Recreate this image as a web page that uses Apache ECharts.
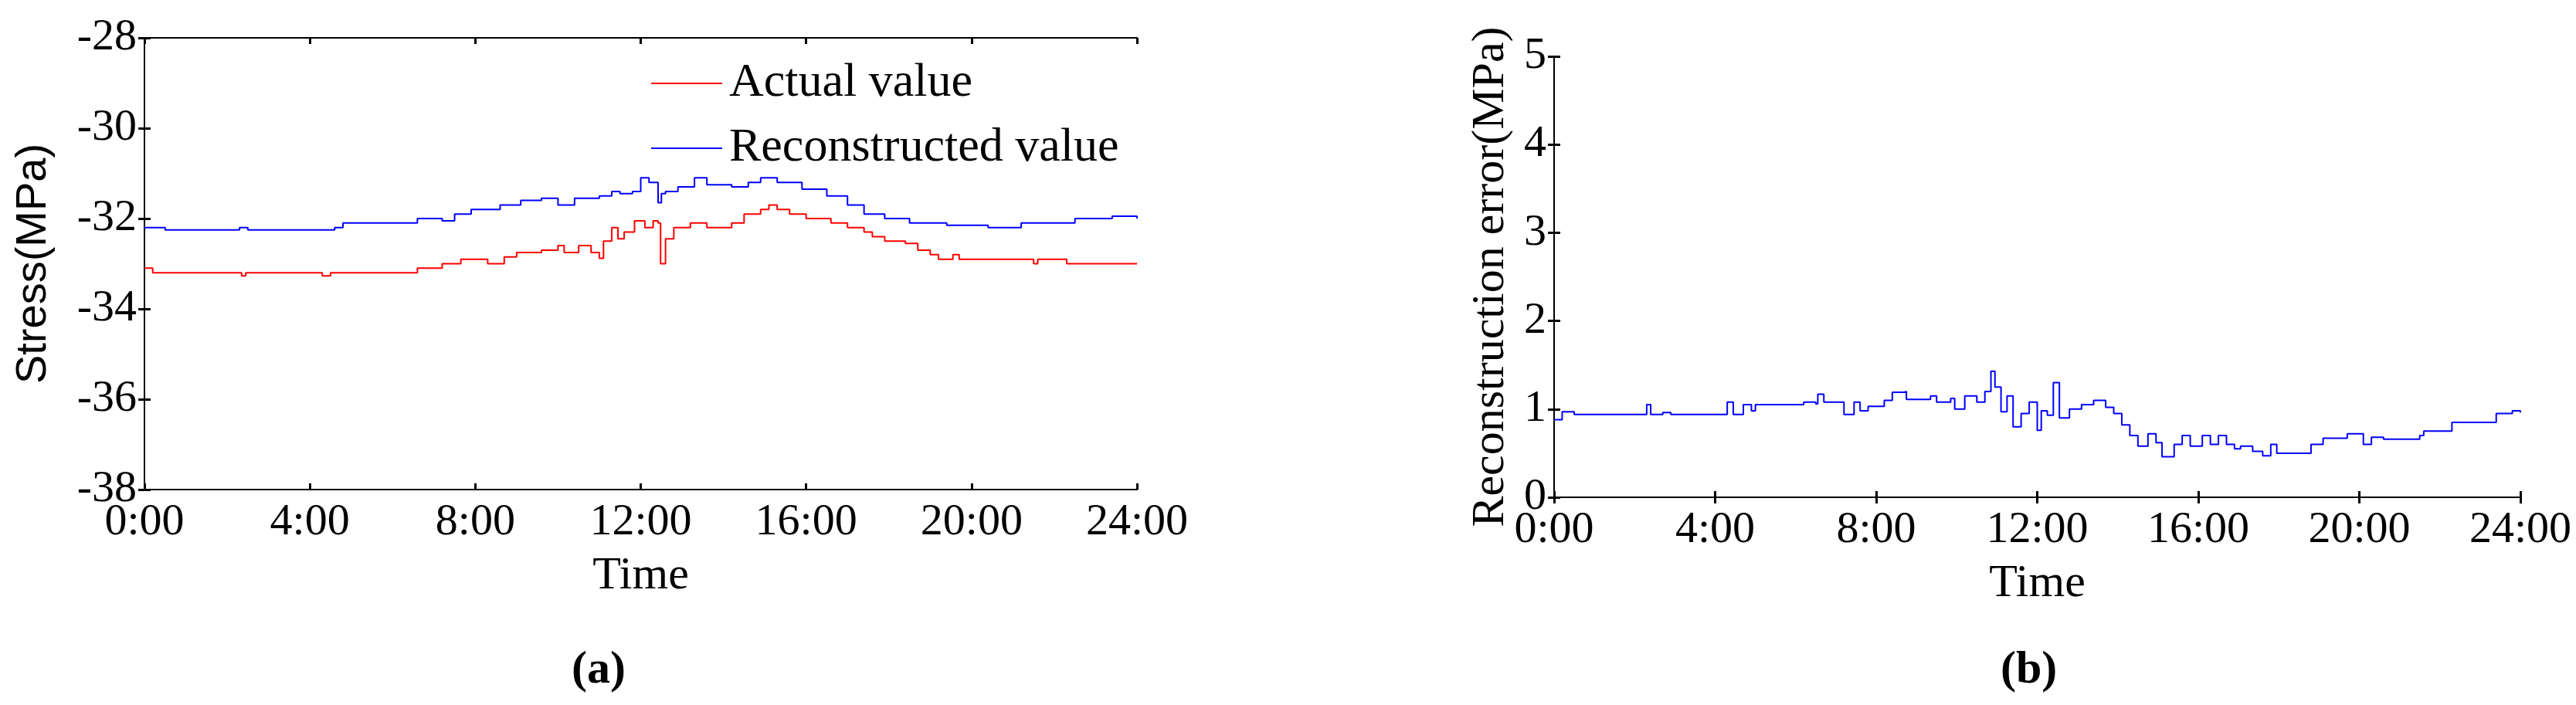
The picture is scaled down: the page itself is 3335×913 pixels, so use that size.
<!DOCTYPE html>
<html>
<head>
<meta charset="utf-8">
<script src="https://cdn.jsdelivr.net/npm/echarts@6/dist/echarts.min.js"></script>
<style>body{margin:0;background:#fff}#c{width:3335px;height:913px}</style>
</head>
<body>
<div id="c"></div>
<script>
// time in hours, value (each value holds until the next time)
var actualT = [0,0.2,2.3,2.35,2.45,4.2,4.3,4.5,6.6,7.2,7.65,8.3,8.7,9.0,9.6,10.0,10.15,10.5,10.8,11.0,11.1,11.3,11.45,11.6,11.85,12.1,12.3,12.42,12.48,12.6,12.8,13.2,13.6,14.2,14.5,14.9,15.1,15.3,15.6,16.0,16.6,17.0,17.4,17.6,17.9,18.4,18.7,19.0,19.2,19.55,19.7,21.4,21.5,21.6,22.3,24];
var actualV = [-33.1,-33.2,-33.2,-33.27,-33.2,-33.2,-33.27,-33.2,-33.1,-33.0,-32.9,-33.0,-32.85,-32.75,-32.7,-32.6,-32.75,-32.6,-32.75,-32.88,-32.5,-32.2,-32.45,-32.3,-32.05,-32.2,-32.05,-32.1,-33.0,-32.45,-32.2,-32.1,-32.2,-32.1,-31.9,-31.8,-31.7,-31.8,-31.9,-32.0,-32.1,-32.2,-32.3,-32.4,-32.5,-32.55,-32.7,-32.8,-32.9,-32.8,-32.9,-32.9,-33.0,-32.9,-33.0,-33.0];
var reconT = [0,0.5,2.2,2.3,2.5,4.1,4.6,4.8,6.6,7.2,7.5,7.9,8.6,9.1,9.6,10.0,10.4,11.0,11.3,11.5,11.8,12.0,12.2,12.42,12.5,12.6,12.9,13.3,13.6,14.2,14.6,14.9,15.3,15.9,16.5,17.0,17.4,17.9,18.5,19.4,20.4,21.2,22.5,23.4,24];
var reconV = [-32.2,-32.25,-32.25,-32.2,-32.25,-32.25,-32.2,-32.1,-32.0,-32.05,-31.9,-31.8,-31.7,-31.6,-31.55,-31.7,-31.55,-31.5,-31.4,-31.45,-31.4,-31.1,-31.2,-31.65,-31.45,-31.4,-31.3,-31.1,-31.25,-31.3,-31.2,-31.1,-31.2,-31.35,-31.5,-31.7,-31.9,-32.0,-32.1,-32.15,-32.2,-32.1,-32.0,-31.95,-32.0];
var errT = [0,0.2,0.5,2.1,2.3,2.4,2.7,2.9,4.0,4.3,4.45,4.7,4.9,5.0,6.2,6.5,6.55,6.7,7.1,7.2,7.45,7.6,7.8,8.2,8.4,8.7,8.75,9.35,9.5,9.85,9.95,10.2,10.5,10.7,10.85,10.95,11.1,11.25,11.4,11.6,11.8,12.0,12.1,12.25,12.4,12.55,12.8,13.1,13.4,13.7,13.9,14.1,14.3,14.5,14.75,14.95,15.1,15.4,15.6,15.8,16.1,16.3,16.5,16.7,16.9,17.05,17.35,17.6,17.8,17.95,18.6,18.8,19.1,19.7,20.1,20.3,20.6,21.4,21.5,21.6,22.3,23.4,23.8,24];
var errV = [0.88,0.97,0.94,0.94,1.05,0.94,0.96,0.94,0.94,1.08,0.94,1.05,0.98,1.05,1.08,1.06,1.17,1.08,1.08,0.94,1.08,0.98,1.03,1.1,1.19,1.2,1.11,1.15,1.08,1.12,1.0,1.15,1.08,1.2,1.43,1.25,0.97,1.15,0.8,0.95,1.08,0.76,0.98,0.93,1.3,0.9,1.0,1.05,1.1,1.02,0.95,0.82,0.7,0.58,0.72,0.62,0.46,0.6,0.7,0.58,0.7,0.6,0.7,0.6,0.55,0.58,0.52,0.47,0.6,0.5,0.5,0.6,0.67,0.72,0.6,0.68,0.66,0.66,0.7,0.75,0.85,0.95,0.98,0.96];
var timeTicks = ['0:00','4:00','8:00','12:00','16:00','20:00','24:00'];

function pairs(t, v) { return t.map(function (x, i) { return [x, v[i]]; }); }

var tickFont = {fontFamily: 'Liberation Serif', fontSize: 58, color: '#000'};
function xAx(gi, top) {
  return {
    type: 'value', gridIndex: gi, min: 0, max: 24, interval: 4,
    position: top ? 'top' : 'bottom',
    name: top ? '' : 'Time', nameLocation: 'middle', nameGap: 82,
    nameTextStyle: {fontFamily: 'Liberation Serif', fontSize: 60, color: '#000'},
    axisLine: {show: true, lineStyle: {color: '#000', width: 2}},
    axisTick: {show: true, inside: true, length: 8, lineStyle: {color: '#000', width: 3}},
    axisLabel: top ? {show: false} : Object.assign({margin: 14, formatter: function (v) { return timeTicks[v / 4]; }}, tickFont),
    splitLine: {show: false}
  };
}
function yAx(gi, right, min, max, interval, name, nf, fs, gap) {
  return {
    type: 'value', gridIndex: gi, min: min, max: max, interval: interval,
    position: right ? 'right' : 'left',
    name: right ? '' : name, nameLocation: 'middle', nameGap: gap,
    nameTextStyle: {fontFamily: nf, fontSize: fs, color: '#000'},
    axisLine: {show: true, lineStyle: {color: '#000', width: 2}},
    axisTick: {show: true, inside: true, length: 8, lineStyle: {color: '#000', width: 3}},
    axisLabel: right ? {show: false} : Object.assign({margin: 10}, tickFont),
    splitLine: {show: false}
  };
}

var chart = echarts.init(document.getElementById('c'));
chart.setOption({
  animation: false,
  backgroundColor: '#fff',
  grid: [
    {left: 187, right: 1863, top: 49, height: 585},
    {left: 2012, right: 72, top: 73, height: 571}
  ],
  legend: {
    orient: 'vertical', left: 838, top: 72, itemGap: 22, itemWidth: 92, itemHeight: 10,
    icon: 'path://M0,0H1V0.02H0Z',
    textStyle: {fontFamily: 'Liberation Serif', fontSize: 62, color: '#000', padding: [0, 0, 0, 4]},
    data: ['Actual value', 'Reconstructed value']
  },
  xAxis: [xAx(0, false), xAx(0, true), xAx(1, false), xAx(1, true)],
  yAxis: [
    yAx(0, false, -38, -28, 2, 'Stress(MPa)', 'Liberation Sans', 56, 115),
    yAx(0, true, -38, -28, 2, '', '', 10, 0),
    yAx(1, false, 0, 5, 1, 'Reconstruction error(MPa)', 'Liberation Serif', 60, 52),
    yAx(1, true, 0, 5, 1, '', '', 10, 0)
  ],
  graphic: [
    {type: 'text', left: 740, top: 838, style: {text: '(a)', font: 'bold 60px "Liberation Serif"', fill: '#000'}},
    {type: 'text', left: 2590, top: 838, style: {text: '(b)', font: 'bold 60px "Liberation Serif"', fill: '#000'}}
  ],
  series: [
    {name: 'Actual value', type: 'line', step: 'end', xAxisIndex: 0, yAxisIndex: 0, showSymbol: false,
     itemStyle: {color: '#ff0000'}, lineStyle: {color: '#ff0000', width: 2}, data: pairs(actualT, actualV)},
    {name: 'Reconstructed value', type: 'line', step: 'end', xAxisIndex: 0, yAxisIndex: 0, showSymbol: false,
     itemStyle: {color: '#0000ff'}, lineStyle: {color: '#0000ff', width: 2}, data: pairs(reconT, reconV)},
    {name: 'Reconstruction error', type: 'line', step: 'end', xAxisIndex: 2, yAxisIndex: 2, showSymbol: false,
     itemStyle: {color: '#0000ff'}, lineStyle: {color: '#0000ff', width: 2}, data: pairs(errT, errV)}
  ]
});
</script>
</body>
</html>
